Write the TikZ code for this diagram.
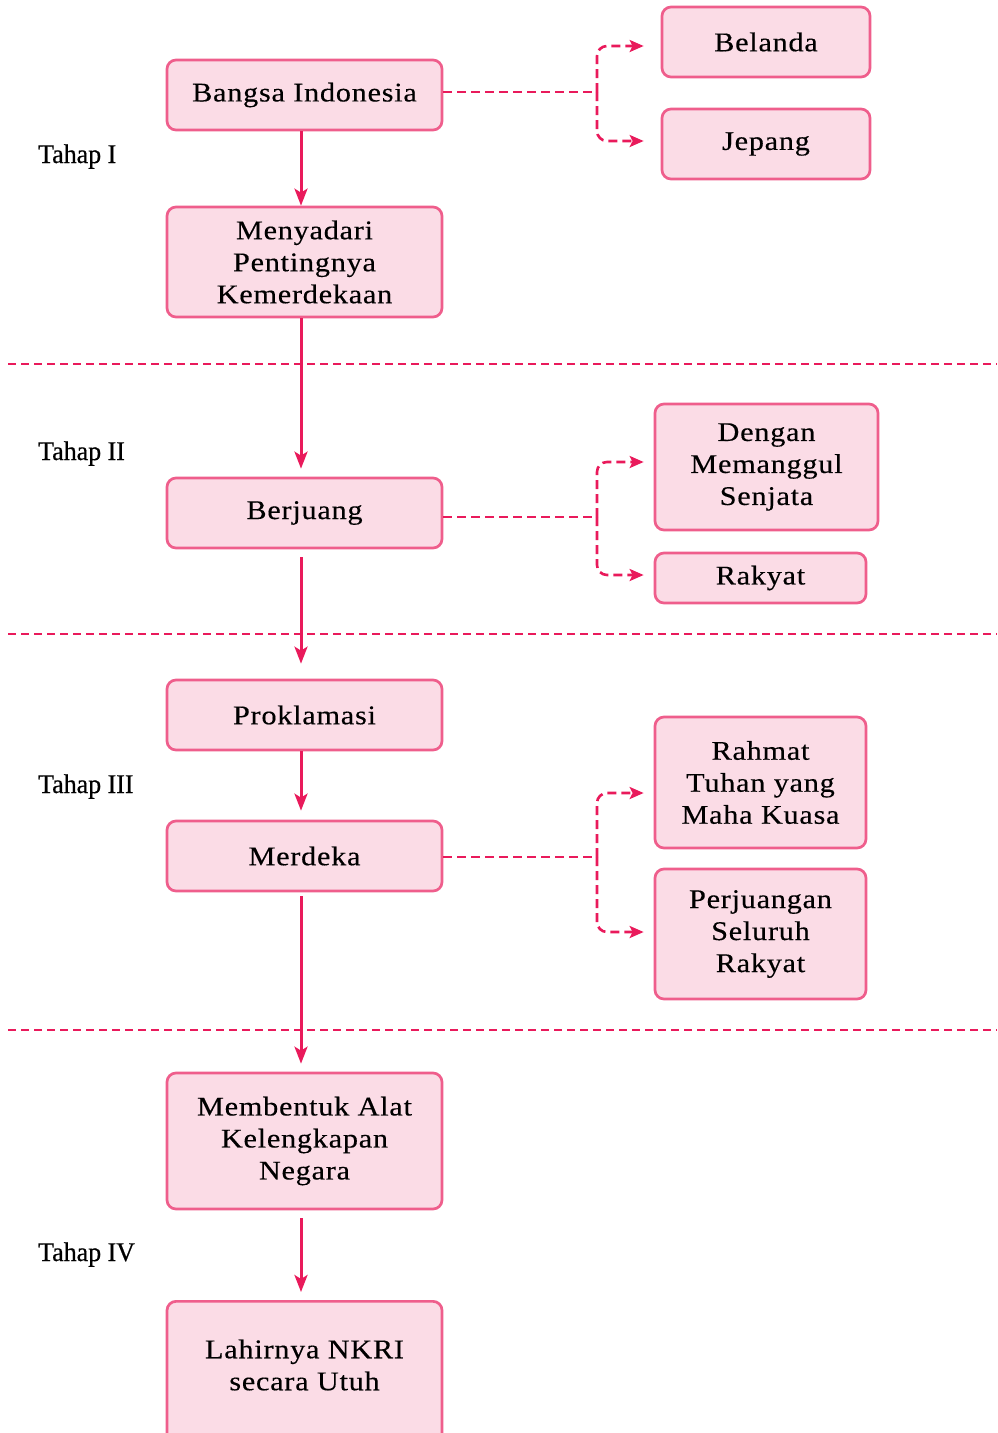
\documentclass[tikz,border=0pt]{standalone}
\usepackage{fontspec}
\setmainfont{Liberation Serif}
\newfontfamily\boxfont[FakeStretch=1.12,LetterSpace=2.8,FakeBold=0.3]{Liberation Serif}
\newfontfamily\tahapfont[FakeStretch=0.96,FakeBold=0.6]{Liberation Serif}
\usetikzlibrary{arrows.meta}
\definecolor{pborder}{HTML}{EF5E8C}
\definecolor{pfill}{HTML}{FBDCE6}
\definecolor{parrow}{HTML}{E91A5B}
\begin{document}
\begin{tikzpicture}[x=1pt,y=-1pt,
  pbox/.style={draw=pborder, fill=pfill, line width=2.7pt, rounded corners=9pt,
    align=center, font=\boxfont\fontsize{27}{32}\selectfont, inner sep=0pt},
  ptext/.style={align=center, font=\boxfont\fontsize{27}{32}\selectfont, inner sep=0pt},
  tahap/.style={anchor=base west, font=\tahapfont\fontsize{27}{30}\selectfont, inner sep=0pt},
  flow/.style={draw=parrow, line width=3pt, -{Stealth[length=17pt,width=13pt,inset=4pt]}},
  divider/.style={draw=parrow, line width=2.3pt, dash pattern=on 8pt off 5pt},
  branch/.style={draw=parrow, line width=2.6pt, dash pattern=on 9pt off 5pt, rounded corners=10pt},
  brancharrow/.style={branch, -{Stealth[length=14pt,width=12pt,inset=3pt]}}
]
\useasboundingbox (0,0) rectangle (997,1433);

% dividers
\draw[divider] (8,364) -- (997,364);
\draw[divider] (8,634) -- (997,634);
\draw[divider] (8,1030) -- (997,1030);

% tahap labels
\node[tahap] (t1) at (38,163) {Tahap I};
\node[tahap] (t2) at (38,460) {Tahap II};
\node[tahap] (t3) at (38,793) {Tahap III};
\node[tahap] (t4) at (38,1261) {Tahap IV};

% main column
\node[pbox, minimum width=275pt, minimum height=70pt] (bangsa) at (304.5,95) {Bangsa Indonesia};
\node[pbox, minimum width=275pt, minimum height=110pt] (sadar) at (304.5,262) {Menyadari\\Pentingnya\\Kemerdekaan};
\node[pbox, minimum width=275pt, minimum height=70pt] (juang) at (304.5,513) {Berjuang};
\node[pbox, minimum width=275pt, minimum height=70pt] (prok) at (304.5,715) {Proklamasi};
\node[pbox, minimum width=275pt, minimum height=70pt] (merdeka) at (304.5,856) {Merdeka};
\node[pbox, minimum width=275pt, minimum height=136pt] (bentuk) at (304.5,1141) {Membentuk Alat\\Kelengkapan\\Negara};
\node[pbox, minimum width=275pt, minimum height=150pt, anchor=north] (lahir) at (304.5,1300) {};
\node[ptext] (lahirtext) at (304.5,1365) {Lahirnya NKRI\\secara Utuh};

% right boxes
\node[pbox, minimum width=208pt, minimum height=70pt] (belanda) at (766,42) {Belanda};
\node[pbox, minimum width=208pt, minimum height=70pt] (jepang) at (766,144) {Jepang};
\node[pbox, minimum width=223pt, minimum height=126pt] (dengan) at (766.5,467) {Dengan\\Memanggul\\Senjata};
\node[pbox, minimum width=211pt, minimum height=50pt] (rakyat) at (760.5,578) {Rakyat};
\node[pbox, minimum width=211pt, minimum height=131pt] (rahmat) at (760.5,782.5) {Rahmat\\Tuhan yang\\Maha Kuasa};
\node[pbox, minimum width=211pt, minimum height=130pt] (perj) at (760.5,934) {Perjuangan\\Seluruh\\Rakyat};

% vertical flow
\draw[flow] ([xshift=-3.5pt]bangsa.south) -- ([xshift=-3.5pt]sadar.north);
\draw[flow, shorten >=8pt] ([xshift=-3.5pt]sadar.south) -- ([xshift=-3.5pt]juang.north);
\draw[flow, shorten <=8pt, shorten >=15pt] ([xshift=-3.5pt]juang.south) -- ([xshift=-3.5pt]prok.north);
\draw[flow, shorten >=9pt] ([xshift=-3.5pt]prok.south) -- ([xshift=-3.5pt]merdeka.north);
\draw[flow, shorten <=4pt, shorten >=8pt] ([xshift=-3.5pt]merdeka.south) -- ([xshift=-3.5pt]bentuk.north);
\draw[flow, shorten <=8pt, shorten >=8pt] ([xshift=-3.5pt]bentuk.south) -- ([xshift=-3.5pt]lahir.north);

% branches
\coordinate (j1) at (597,92);
\coordinate (j2) at (597,517);
\coordinate (j3) at (597,857);
\draw[branch] ([yshift=3pt]bangsa.east) -- (j1);
\draw[brancharrow, shorten >=17pt] (j1) |- ([yshift=-4pt]belanda.west);
\draw[brancharrow, shorten >=17pt] (j1) |- ([yshift=3pt]jepang.west);
\draw[branch] ([yshift=-4pt]juang.east) -- (j2);
\draw[brancharrow, shorten >=10pt] (j2) |- ([yshift=5pt]dengan.west);
\draw[brancharrow, shorten >=10pt] (j2) |- ([yshift=3pt]rakyat.west);
\draw[branch] ([yshift=-1pt]merdeka.east) -- (j3);
\draw[brancharrow, shorten >=10pt] (j3) |- ([yshift=-10.5pt]rahmat.west);
\draw[brancharrow, shorten >=10pt] (j3) |- ([yshift=2pt]perj.west);
\end{tikzpicture}
\end{document}
